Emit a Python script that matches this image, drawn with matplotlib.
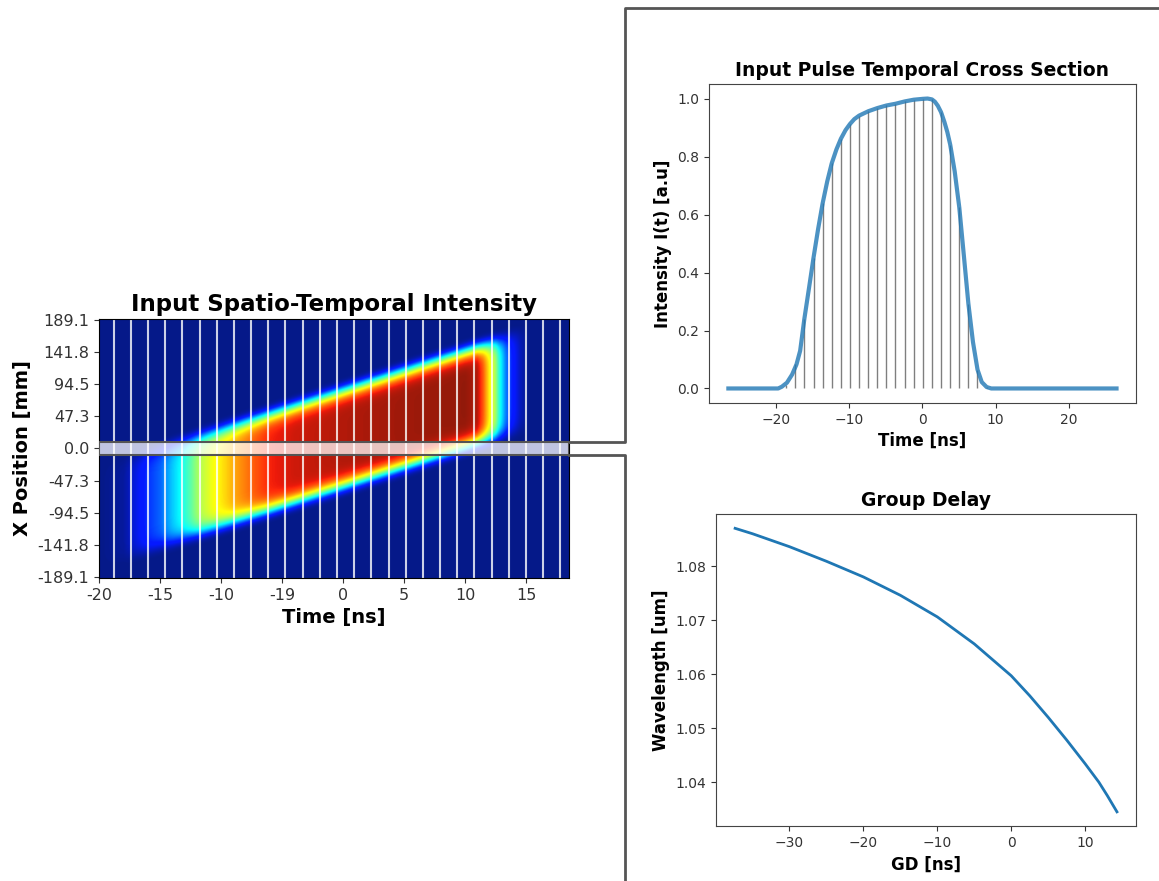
import numpy as np
import matplotlib
matplotlib.use('Agg')
import matplotlib.pyplot as plt
from matplotlib.patches import Rectangle
from matplotlib.lines import Line2D
from matplotlib.colors import ListedColormap

# Pulse envelope along the chirped band (time [ns], normalised intensity)
env_t = [-20, -18, -17, -16, -15, -14, -13.3, -12.5, -11.8, -11, -10.3, -9.5, -8.9, -7.5, -6, -4, 0, 5, 10,
         11, 11.5, 12, 12.5, 12.8, 13.3, 13.8, 14.5, 15.2, 18.5]
env_i = [0, 0.02, 0.08, 0.15, 0.2, 0.3, 0.36, 0.46, 0.56, 0.62, 0.67, 0.72, 0.76, 0.83, 0.90, 0.935, 0.96, 0.975, 0.985,
         0.96, 0.84, 0.68, 0.55, 0.40, 0.24, 0.14, 0.05, 0.0, 0]
band_x0 = 14.0        # band centre at t=0 [mm]
band_slope = 5.74     # spatial chirp [mm/ns]
band_halfwidth = 72.0 # [mm]

# Temporal cross section at x = 0
pulse_t = [-26.5, -20, -19.7, -19.2, -18.5, -17.8, -17.2, -16.7, -16.12, -15.5, -14.87, -14.25, -13.63, -13.0,
           -12.39, -11.75, -11.14, -10.5, -9.9, -9.3, -8.65, -7.41, -6.17, -4.92, -3.68, -2.43, -1.19, 0.06,
           0.7, 1.3, 1.7, 2.1, 2.54, 3.0, 3.4, 3.79, 4.4, 5.03, 5.65, 6.27, 6.9, 7.52, 8.1, 8.76, 9.4, 26.5]
pulse_i = [0, 0, 0.0, 0.006, 0.02, 0.048, 0.083, 0.13, 0.241, 0.345, 0.452, 0.55, 0.639, 0.715,
           0.777, 0.825, 0.862, 0.892, 0.913, 0.93, 0.942, 0.957, 0.968, 0.977, 0.983, 0.991, 0.997, 1.0,
           1.001, 0.998, 0.99, 0.976, 0.954, 0.92, 0.885, 0.842, 0.75, 0.625, 0.46, 0.293, 0.16, 0.065, 0.022, 0.005, 0.0, 0.0]
stem_i = [0.0, 0.012, 0.085, 0.241, 0.452, 0.639, 0.777, 0.862, 0.913, 0.942, 0.957, 0.968, 0.977,
          0.983, 0.991, 0.997, 1.0, 0.998, 0.954, 0.842, 0.625, 0.293, 0.065, 0.005, 0.0]

# Group delay curve
gd_ns = [-37.35, -35, -30, -25, -20, -15, -10, -5, 0, 2.5, 5, 7.5, 10, 11.85, 13, 14.3]
wl_um = [1.0870, 1.0860, 1.0836, 1.0809, 1.0780, 1.0746, 1.0706, 1.0656, 1.0597, 1.0560, 1.0520, 1.0478,
         1.0434, 1.0400, 1.0375, 1.0345]

xpos_ticks = [189.1, 141.8, 94.5, 47.3, 0.0, -47.3, -94.5, -141.8, -189.1]
time_ticks = [-20, -15, -10, -5, 0, 5, 10, 15]
time_labels = ['-20', '-15', '-10', '-19', '0', '5', '10', '15']

t_min, t_max = -20, 18.5
x_lim = 190.0

# jet with a slightly lifted green/blue floor
jet_rgba = plt.get_cmap('jet')(np.linspace(0, 1, 256))
jet_rgba[:, :3] = np.clip(jet_rgba[:, :3] + np.array([0.02, 0.1, 0.04]), 0, 1)
soft_jet = ListedColormap(jet_rgba)

fig = plt.figure(figsize=(11.59, 8.81), dpi=100)

# ---- spatio-temporal intensity map
ax_img = fig.add_axes([0.0854, 0.344, 0.4055, 0.294])
tt = np.linspace(t_min, t_max, 500)
xx = np.linspace(-x_lim, x_lim, 500)
T, X = np.meshgrid(tt, xx)
centre = band_x0 + band_slope * T
field = np.interp(T, env_t, env_i) * np.exp(-((X - centre) / band_halfwidth) ** 8)
ax_img.imshow(field, extent=[t_min, t_max, -x_lim, x_lim], origin='lower', aspect='auto',
              cmap=soft_jet, vmin=0, vmax=1, interpolation='bilinear')
for t in np.linspace(-18.8, 17.8, 27):
    ax_img.axvline(t, color='white', lw=1.5, alpha=0.8)
ax_img.add_patch(Rectangle((t_min, -9), t_max - t_min, 18, facecolor=(1, 1, 1, 0.75),
                           edgecolor='#555555', lw=1.5, zorder=5))
ax_img.set_xlim(t_min, t_max)
ax_img.set_ylim(-x_lim, x_lim)
ax_img.set_yticks(xpos_ticks)
ax_img.set_yticklabels(['%.1f' % v if v >= 0 else '-%.1f' % -v for v in xpos_ticks])
ax_img.set_xticks(time_ticks)
ax_img.set_xticklabels(time_labels)
ax_img.tick_params(labelsize=11.5, colors='#333333')
ax_img.set_title('Input Spatio-Temporal Intensity', fontsize=16.5, fontweight='bold')
ax_img.set_xlabel('Time [ns]', fontsize=14, fontweight='bold')
ax_img.set_ylabel('X Position [mm]', fontsize=14, fontweight='bold')

# ---- temporal cross section
ax_pulse = fig.add_axes([0.6117, 0.5426, 0.3684, 0.362])
ax_pulse.vlines(np.linspace(-19.85, 10.0, 25), 0, stem_i, color='black', alpha=0.5, lw=1)
ax_pulse.plot(pulse_t, pulse_i, color='#1f77b4', alpha=0.8, lw=3, zorder=3)
ax_pulse.set_title('Input Pulse Temporal Cross Section', fontsize=13.5, fontweight='bold')
ax_pulse.set_xlabel('Time [ns]', fontsize=12, fontweight='bold')
ax_pulse.set_ylabel('Intensity I(t) [a.u]', fontsize=12, fontweight='bold')
ax_pulse.tick_params(labelsize=10, colors='#333333')

# ---- group delay
ax_gd = fig.add_axes([0.6178, 0.0624, 0.3624, 0.354])
ax_gd.plot(gd_ns, wl_um, color='#1f77b4', lw=2)
ax_gd.set_title('Group Delay', fontsize=13.5, fontweight='bold')
ax_gd.set_xlabel('GD [ns]', fontsize=12, fontweight='bold')
ax_gd.set_ylabel('Wavelength [um]', fontsize=12, fontweight='bold')
ax_gd.tick_params(labelsize=10, colors='#333333')

for ax in (ax_pulse, ax_gd):
    for sp in ax.spines.values():
        sp.set_color('#444444')

# ---- connector from the highlighted row to the right-hand panels
to_fig = fig.transFigure.inverted()
xa, ya_top = to_fig.transform(ax_img.transData.transform((t_max, 9)))
_, ya_bot = to_fig.transform(ax_img.transData.transform((t_max, -9)))
box_left = 625 / 1159
box_top = 1 - 8 / 881
fig.add_artist(Line2D([xa, box_left, box_left, 1.0], [ya_top, ya_top, box_top, box_top],
                      transform=fig.transFigure, color='#555555', lw=2))
fig.add_artist(Line2D([xa, box_left, box_left], [ya_bot, ya_bot, 0.0],
                      transform=fig.transFigure, color='#555555', lw=2))

fig.savefig('out.png', dpi=100)
